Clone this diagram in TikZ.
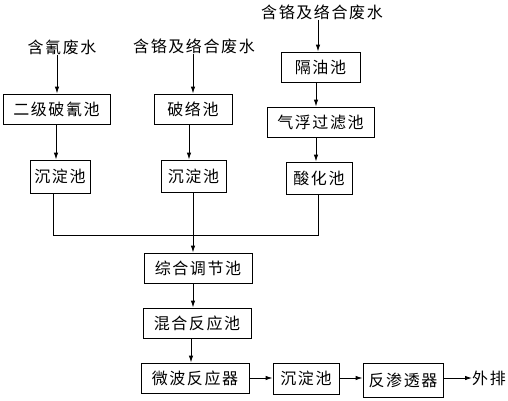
\documentclass[tikz,border=0pt]{standalone}
\usepackage{fontspec}
\newfontfamily\cjk[LetterSpace=10]{Noto Sans CJK SC}
\usetikzlibrary{arrows.meta}
\begin{document}
\begin{tikzpicture}[x=1pt,y=-1pt,
  every node/.style={font=\cjk\fontsize{16pt}{19pt}\selectfont, inner sep=0pt},
  box/.style={draw, line width=0.9pt, minimum width=#1, minimum height=30pt},
  lbl/.style={},
  ln/.style={line width=0.9pt},
  arr/.style={line width=0.9pt, -{Latex[length=7pt,width=4.5pt]}}]
\useasboundingbox (0,0) rectangle (508,400);
% column 1
\node[lbl] (t1) at (62,47) {含氰废水};
\node[box=107pt] (b1) at (56.5,109) {二级破氰池};
\node[box=60pt, minimum height=33pt] (s1) at (60,176.5) {沉淀池};
% column 2
\node[lbl] (t2) at (194,46) {含铬及络合废水};
\node[box=78pt] (b2) at (193,109) {破络池};
\node[box=65pt, minimum height=32pt] (s2) at (193.5,176) {沉淀池};
% column 3
\node[lbl] (t3) at (322,12) {含铬及络合废水};
\node[box=79pt] (b3) at (320.5,67) {隔油池};
\node[box=107pt] (b4) at (320.5,122) {气浮过滤池};
\node[box=66pt, minimum height=32pt] (b5) at (319,178) {酸化池};
% junctions
\coordinate (j1) at (53,235);
\coordinate (j2) at (193,235);
\coordinate (j3) at (318,235);
% main line
\node[box=108pt] (m1) at (198,268) {综合调节池};
\node[box=108pt] (m2) at (197,323) {混合反应池};
\node[box=108pt] (m3) at (195,378) {微波反应器};
\node[box=66pt, minimum height=31pt] (m4) at (306,378.5) {沉淀池};
\node[box=80pt, minimum height=34pt] (m5) at (403,380) {反渗透器};
\node[lbl, anchor=west] (t4) at (472,378) {外排};
% connectors
\draw[arr] (t1.south -| 57,0) -- (57,0 |- b1.north);
\draw[arr] (56,0 |- b1.south) -- (56,0 |- s1.north);
\draw[ln] (j1 |- s1.south) -- (j1) -- (j3) -- (j3 |- b5.south);
\draw[arr] (t2.south -| b2.north) -- (b2.north);
\draw[arr] (189,0 |- b2.south) -- (189,0 |- s2.north);
\draw[arr] (j2 |- s2.south) -- (j2 |- m1.north);
\draw[arr] (t3.south -| j3) -- (j3 |- b3.north);
\draw[arr] (316,0 |- b3.south) -- (316,0 |- b4.north);
\draw[arr] (316,0 |- b4.south) -- (316,0 |- b5.north);
\draw[arr] (193,0 |- m1.south) -- (193,0 |- m2.north);
\draw[arr] (191,0 |- m2.south) -- (191,0 |- m3.north);
\draw[arr] (m3.east |- 0,378) -- (m4.west |- 0,378);
\draw[arr] (m4.east |- 0,378) -- (m5.west |- 0,378);
\draw[arr] (m5.east |- 0,378) -- (t4.west |- 0,378);
\end{tikzpicture}
\end{document}
